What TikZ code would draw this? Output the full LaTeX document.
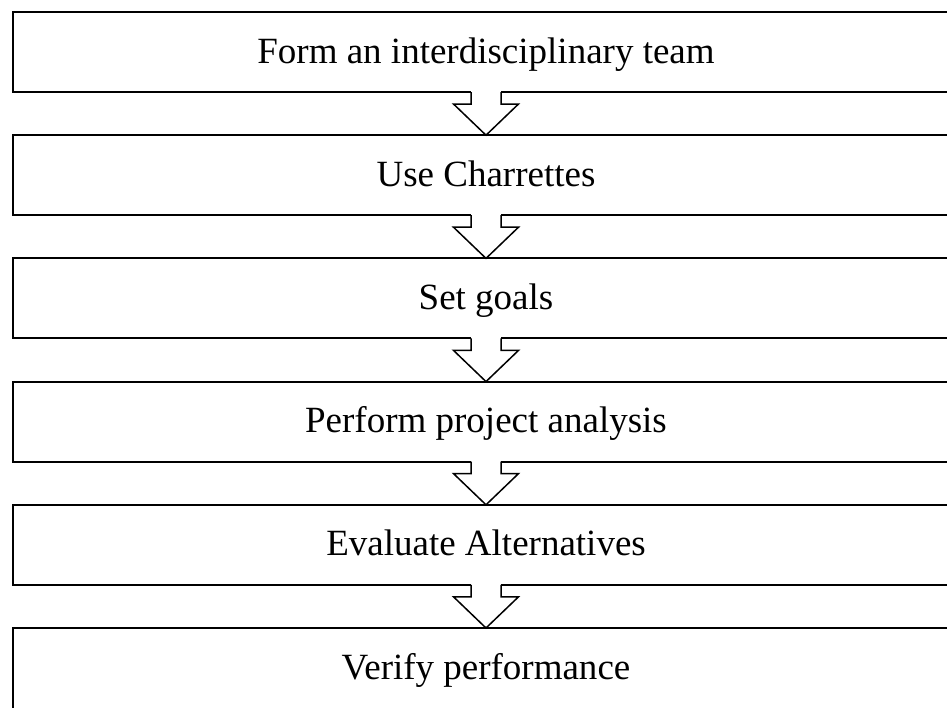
\documentclass[tikz,border=0pt]{standalone}
\usepackage{fontspec}
\setmainfont{Liberation Serif}
\usetikzlibrary{calc}
\tikzset{
  stepbox/.style={draw=black, fill=white, line width=2pt, minimum width=946pt, minimum height=80pt,
    inner sep=0pt, outer sep=0pt, text height=28pt, text depth=6pt,
    font=\fontsize{37}{40}\selectfont},
  arrowline/.style={draw=black, line width=1.5pt, line join=miter},
}
\begin{document}
\begin{tikzpicture}[x=1pt,y=-1pt]
\useasboundingbox (0,0) rectangle (947,707);
\clip (0,0) rectangle (947,707);
\node[stepbox] (b1) at (486,52) {Form an interdisciplinary team};
\node[stepbox] (b2) at (486,175.2) {Use Charrettes};
\node[stepbox] (b3) at (486,298.4) {Set goals};
\node[stepbox] (b4) at (486,421.6) {Perform project analysis};
\node[stepbox] (b5) at (486,544.8) {Evaluate Alternatives};
\node[stepbox, minimum height=100pt, text height=18pt, text depth=16pt] (b6) at (486,678) {Verify performance};
\foreach \a/\b in {b1/b2,b2/b3,b3/b4,b4/b5,b5/b6}{
  \fill[white] ($(\a.south)+(-15,-2)$) rectangle ($(\a.south)+(15,12)$);
  \path[arrowline] ($(\a.south)+(-15,0)$) -- ($(\a.south)+(-15,12)$) -- ($(\a.south)+(-32.5,12)$)
     -- (\b.north) -- ($(\a.south)+(32.5,12)$) -- ($(\a.south)+(15,12)$) -- ($(\a.south)+(15,0)$);
}
\end{tikzpicture}
\end{document}
